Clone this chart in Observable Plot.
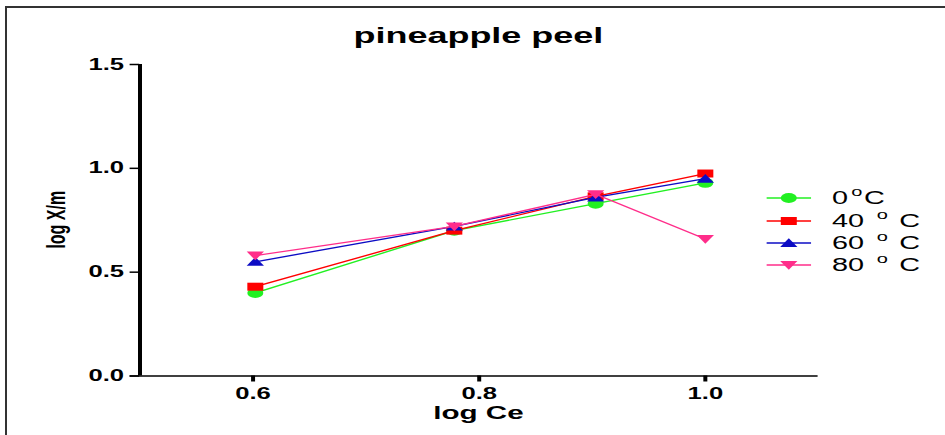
<!DOCTYPE html>
<html>
<head>
<meta charset="utf-8">
<script src="https://cdn.jsdelivr.net/npm/d3@7"></script>
<script src="https://cdn.jsdelivr.net/npm/@observablehq/plot@0.6"></script>
<style>
  body { margin: 0; background: #fff; }
  #page { position: relative; width: 945px; height: 435px; overflow: hidden; background: #fff;
          font-family: Arial, "Liberation Sans", sans-serif; }
  #frame { position: absolute; left: 5px; top: 6px; right: -10px; bottom: -10px;
           border-top: 2px solid #333; border-left: 2px solid #333; }
  /* the whole figure is drawn in a narrow box and widened horizontally */
  #stage { position: absolute; left: 0; top: 0; width: 591px; height: 435px;
           transform: scaleX(1.6); transform-origin: 0 0; }
  #legend { position: absolute; left: 0; top: 0; }
  .row { position: absolute; left: 479px; height: 20px; display: flex; align-items: center;
         font-size: 18px; color: #000; white-space: nowrap; }
  .row svg { width: 28px; height: 16px; margin-right: 13px; }
  .deg { font-size: 12.5px; position: relative; top: -6px; }
</style>
</head>
<body>
<div id="page">
  <div id="frame"></div>
  <div id="stage"><div id="legend"></div></div>
</div>
<script>
// Freundlich isotherm, pineapple peel: log X/m against log Ce at four temperatures
const logCe = [0.602, 0.778, 0.903, 1.0];
const temps = ["0", "40", "60", "80"];
const logXm0 = [0.40, 0.70, 0.83, 0.93];
const logXm40 = [0.43, 0.70, 0.865, 0.975];
const logXm60 = [0.55, 0.72, 0.86, 0.95];
const logXm80 = [0.58, 0.72, 0.875, 0.66];
const xTicks = [0.6, 0.8, 1.0];
const yTicks = [0, 0.5, 1.0, 1.5];
const colors = ["#22f022", "#ff0000", "#0c0cc4", "#ff2d8a"];

// marker shapes (slightly wide, as in the original GraphPad style)
const circle = { draw(ctx, size) { const r = Math.sqrt(size / Math.PI); ctx.moveTo(r, 0); ctx.arc(0, 0, r, 0, 2 * Math.PI); ctx.closePath(); } };
const square = { draw(ctx, size) { const r = Math.sqrt(size / Math.PI), w = r, h = r * 0.8;
  ctx.moveTo(-w, -h); ctx.lineTo(w, -h); ctx.lineTo(w, h); ctx.lineTo(-w, h); ctx.closePath(); } };
const triUp = { draw(ctx, size) { const r = Math.sqrt(size / Math.PI), w = r * 1.08;
  ctx.moveTo(0, -r * 0.95); ctx.lineTo(w, r * 0.8); ctx.lineTo(-w, r * 0.8); ctx.closePath(); } };
const triDown = { draw(ctx, size) { const r = Math.sqrt(size / Math.PI), w = r * 1.08;
  ctx.moveTo(0, r * 0.95); ctx.lineTo(w, -r * 0.8); ctx.lineTo(-w, -r * 0.8); ctx.closePath(); } };
const symbols = [circle, square, triUp, triDown];

const seriesValues = [logXm0, logXm40, logXm60, logXm80];
const seriesData = seriesValues.map((vals, k) =>
  logCe.map((x, i) => ({ temp: temps[k], x, y: vals[i] })));

const W = 591, H = 435, mL = 87, mR = 80, mT = 64, mB = 59.5;

const marks = [
  Plot.ruleY([0], { stroke: "#000", strokeWidth: 1.6, insetLeft: -6 }),
  Plot.ruleX([0.5], { y1: 0, y2: 1.5, stroke: "#000", strokeWidth: 2.5 }),
  Plot.axisX(xTicks, { tickSize: 6, tickPadding: 6, strokeWidth: 2.5, fontSize: 16, fontWeight: "bold",
    tickFormat: d3.format(".1f"), label: null, fill: "#000" }),
  Plot.axisY(yTicks, { tickSize: 6, tickPadding: 4, strokeWidth: 1.5, fontSize: 16, fontWeight: "bold",
    tickFormat: d3.format(".1f"), label: null, fill: "#000" })
];
seriesData.forEach((rows, k) => {
  marks.push(Plot.line(rows, { x: "x", y: "y", stroke: colors[k], strokeWidth: 1.3 }));
  marks.push(Plot.dot(rows, { x: "x", y: "y", r: 5, symbol: symbols[k], fill: colors[k], stroke: "none" }));
});

const chart = Plot.plot({
  width: W, height: H,
  marginLeft: mL, marginRight: mR, marginTop: mT, marginBottom: mB,
  x: { domain: [0.5, 1.1] },
  y: { domain: [0, 1.5] },
  style: { background: "transparent", overflow: "visible", fontFamily: "Arial, 'Liberation Sans', sans-serif", color: "#000" },
  marks
});

const svg = d3.select(chart);
const cx = mL + (W - mL - mR) / 2;
svg.append("text").attr("x", cx).attr("y", 43).attr("text-anchor", "middle")
  .attr("font-size", 22.5).attr("font-weight", "bold").attr("fill", "#000").text("pineapple peel");
svg.append("text").attr("x", cx).attr("y", 419).attr("text-anchor", "middle")
  .attr("font-size", 18.5).attr("font-weight", "bold").attr("fill", "#000").text("log Ce");
svg.append("text").attr("transform", `translate(40.5,${(mT + H - mB) / 2}) rotate(-90)`)
  .attr("text-anchor", "middle").attr("font-size", 16).attr("font-weight", "bold").attr("fill", "#000").text("log X/m");

document.getElementById("stage").prepend(chart);

// legend
const legend = d3.select("#legend");
const rowY = [198, 221, 243, 265];
temps.forEach((t, k) => {
  const row = legend.append("div").attr("class", "row").style("top", (rowY[k] - 10) + "px");
  const s = row.append("svg").attr("viewBox", "0 0 28 16");
  s.append("line").attr("x1", 0).attr("x2", 28).attr("y1", 8).attr("y2", 8).attr("stroke", colors[k]).attr("stroke-width", 1.3);
  const p = d3.path(); symbols[k].draw(p, 5 * 5 * Math.PI);
  s.append("path").attr("d", p.toString()).attr("transform", "translate(14,8)").attr("fill", colors[k]);
  row.append("span").text(t);
  if (k === 0) {
    row.append("span").attr("class", "deg").style("margin", "0 1px 0 2px").text("o");
  } else {
    row.append("span").attr("class", "deg").style("margin", "0 7px 0 8px").text("o");
  }
  row.append("span").text("C");
});
</script>
</body>
</html>
